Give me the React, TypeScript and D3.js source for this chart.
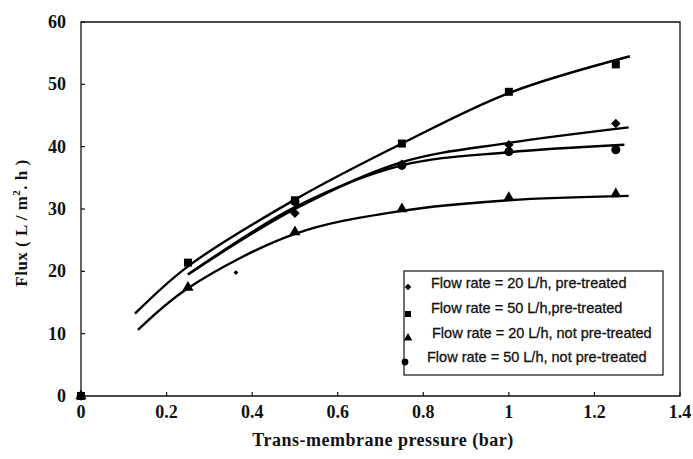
import React from "react";
import * as d3 from "d3";

// Measured data points (x = pressure bar, y = flux)
const pressure = [0, 0.25, 0.5, 0.75, 1.0, 1.25];
const diamondFlux = [0, null, 29.3, 37.2, 40.3, 43.7];
const squareFlux = [0, 21.4, 31.4, 40.5, 48.8, 53.2];
const triangleFlux = [0, 17.4, 26.3, 30.0, 31.8, 32.4];
const circleFlux = [null, null, 31.2, 37.0, 39.2, 39.5];
const strayX = [0.362];
const strayY = [19.8];

// Trend-line points
const squareFitX = [0.126, 0.25, 0.5, 0.75, 1.0, 1.283];
const squareFitY = [13.2, 20.8, 31.5, 40.5, 48.6, 54.5];
const diamondFitX = [0.25, 0.5, 0.75, 1.0, 1.28];
const diamondFitY = [19.5, 30.0, 37.5, 40.6, 43.1];
const circleFitX = [0.25, 0.5, 0.75, 1.0, 1.27];
const circleFitY = [19.5, 30.3, 37.0, 39.1, 40.3];
const triangleFitX = [0.133, 0.25, 0.5, 0.75, 1.0, 1.28];
const triangleFitY = [10.6, 17.3, 26.0, 29.7, 31.4, 32.1];

const xTicks = [0, 0.2, 0.4, 0.6, 0.8, 1, 1.2, 1.4];
const yTicks = [0, 10, 20, 30, 40, 50, 60];
const legendLabels = [
  "Flow rate = 20 L/h, pre-treated",
  "Flow rate = 50 L/h,pre-treated",
  "Flow rate = 20 L/h, not pre-treated",
  "Flow rate = 50 L/h, not pre-treated",
];

const W = 693, H = 459;
const left = 81, right = 680, top = 22, bottom = 396;

export default function App() {
  const x = d3.scaleLinear().domain([0, 1.4]).range([left, right]);
  const y = d3.scaleLinear().domain([0, 60]).range([bottom, top]);
  const line = d3
    .line<[number, number]>()
    .x((d) => x(d[0]))
    .y((d) => y(d[1]))
    .curve(d3.curveCatmullRom.alpha(0.5));

  const fits: [number[], number[]][] = [
    [squareFitX, squareFitY],
    [diamondFitX, diamondFitY],
    [circleFitX, circleFitY],
    [triangleFitX, triangleFitY],
  ];

  const sym = (type: d3.SymbolType, size: number) => d3.symbol().type(type).size(size)() as string;
  const diamondPath = sym(d3.symbolSquare, 45);
  const squarePath = sym(d3.symbolSquare, 64);
  const trianglePath = sym(d3.symbolTriangle, 55);
  const circlePath = sym(d3.symbolCircle, 64);

  const markerSets: { ys: (number | null)[]; path: string; rot: number }[] = [
    { ys: diamondFlux, path: diamondPath, rot: 45 },
    { ys: squareFlux, path: squarePath, rot: 0 },
    { ys: triangleFlux, path: trianglePath, rot: 0 },
    { ys: circleFlux, path: circlePath, rot: 0 },
  ];

  const legendPaths = [
    sym(d3.symbolSquare, 22),
    sym(d3.symbolSquare, 36),
    sym(d3.symbolTriangle, 32),
    sym(d3.symbolCircle, 36),
  ];
  const legendRot = [45, 0, 0, 0];
  const legendTextX = [431, 431, 432, 427];
  const legendMarkX = [408, 408, 408, 405];
  const legendMarkY = [287, 314, 338, 362];
  const legendY = [288, 313, 338, 362];

  const serif = "'Liberation Serif', 'Times New Roman', serif";
  const sans = "'Liberation Sans', Arial, sans-serif";

  return (
    <svg width={W} height={H} style={{ position: "absolute", left: 0, top: 0, background: "#fff" }}>
      <rect x={0} y={0} width={W} height={H} fill="#fff" />
      {/* frame */}
      <path
        d={`M${left},${top}H${right}V${bottom}H${left}Z`}
        fill="none"
        stroke="#111"
        strokeWidth={1.3}
      />
      {/* ticks */}
      {xTicks.map((t) => (
        <line key={"xt" + t} x1={x(t)} x2={x(t)} y1={bottom} y2={bottom - 4} stroke="#111" strokeWidth={1.2} />
      ))}
      {yTicks.map((t) => (
        <line key={"yt" + t} x1={left} x2={left + 4} y1={y(t)} y2={y(t)} stroke="#111" strokeWidth={1.2} />
      ))}
      {/* tick labels */}
      {xTicks.map((t) => (
        <text
          key={"xl" + t}
          x={x(t)}
          y={418}
          textAnchor="middle"
          fontFamily={serif}
          fontWeight="bold"
          fontSize={18}
          fill="#111"
        >
          {String(t)}
        </text>
      ))}
      {yTicks.map((t) => (
        <text
          key={"yl" + t}
          x={66}
          y={y(t) + 6}
          textAnchor="end"
          fontFamily={serif}
          fontWeight="bold"
          fontSize={18}
          fill="#111"
        >
          {String(t)}
        </text>
      ))}
      {/* axis titles */}
      <text
        x={383}
        y={446}
        textAnchor="middle"
        fontFamily={serif}
        fontWeight="bold"
        fontSize={18}
        letterSpacing={0.5}
        fill="#111"
      >
        Trans-membrane pressure (bar)
      </text>
      <text
        transform={`translate(27,223) rotate(-90)`}
        textAnchor="middle"
        fontFamily={serif}
        fontWeight="bold"
        fontSize={17}
        letterSpacing={0.5}
        fill="#111"
      >
        Flux ( L / m
        <tspan dy={-7} fontSize={11}>2</tspan>
        <tspan dy={7}>. h )</tspan>
      </text>
      {/* trend lines */}
      {fits.map(([xs, ys], i) => (
        <path
          key={"fit" + i}
          d={line(xs.map((v, j) => [v, ys[j]] as [number, number])) as string}
          fill="none"
          stroke="#000"
          strokeWidth={2.4}
        />
      ))}
      {/* markers */}
      {markerSets.map((s, si) =>
        s.ys.map((v, i) =>
          v == null ? null : (
            <path
              key={`m${si}-${i}`}
              d={s.path}
              transform={`translate(${x(pressure[i])},${y(v)}) rotate(${s.rot})`}
              fill="#000"
            />
          )
        )
      )}
      {strayX.map((v, i) => (
        <path
          key={"s" + i}
          d={sym(d3.symbolSquare, 12)}
          transform={`translate(${x(v)},${y(strayY[i])}) rotate(45)`}
          fill="#000"
        />
      ))}
      {/* legend */}
      <rect x={404} y={271} width={259} height={104} fill="#fff" stroke="#111" strokeWidth={1.2} />
      {legendLabels.map((lab, i) => (
        <g key={"lg" + i}>
          <path
            d={legendPaths[i]}
            transform={`translate(${legendMarkX[i]},${legendMarkY[i]}) rotate(${legendRot[i]})`}
            fill="#000"
          />
          <text
            x={legendTextX[i]}
            y={legendY[i]}
            fontFamily={sans}
            fontSize={14.5}
            stroke="#111"
            strokeWidth={0.3}
            fill="#111"
          >
            {lab}
          </text>
        </g>
      ))}
    </svg>
  );
}
